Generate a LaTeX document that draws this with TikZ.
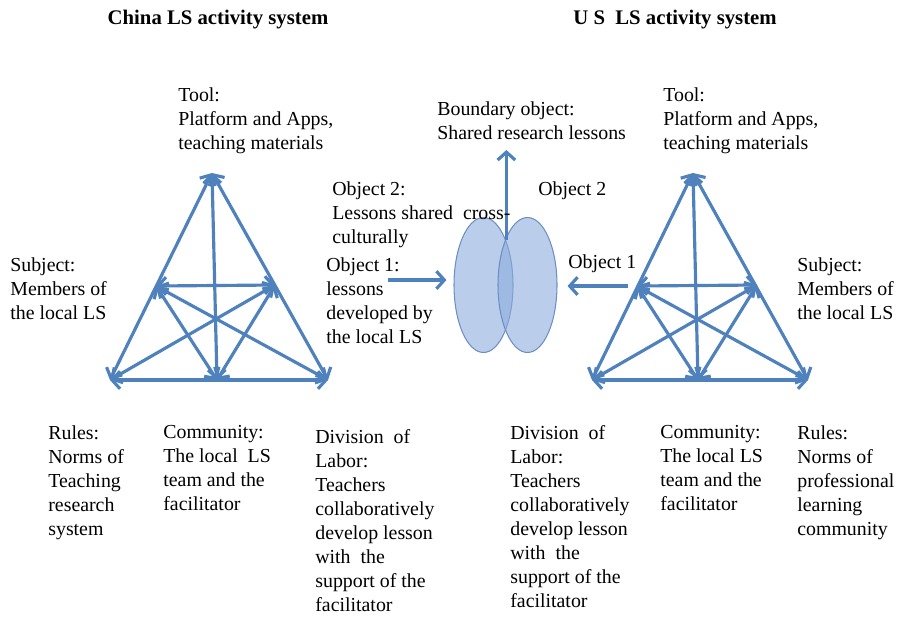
\documentclass[tikz,border=0pt]{standalone}
\usepackage{fontspec}
\setmainfont{Liberation Serif}
\usetikzlibrary{arrows.meta,shapes.geometric}
\definecolor{linkBlue}{RGB}{79,129,189}
\definecolor{lensFill}{RGB}{140,172,220}
\definecolor{lensEdge}{RGB}{110,142,198}
\tikzset{
  link/.style={draw=linkBlue,line width=1.8pt,line cap=round,
    {Straight Barb[length=4.5pt,width=10pt]}-{Straight Barb[length=4.5pt,width=10pt]}},
  flow/.style={draw=linkBlue,line width=1.8pt,-{Straight Barb[length=4.5pt,width=10pt]}},
  lens/.style={ellipse,draw=lensEdge,line width=0.6pt,fill=lensFill,fill opacity=0.6,
    inner sep=0pt,minimum width=1.18cm,minimum height=2.7cm},
  lbl/.style={anchor=north west,inner sep=0pt,align=left,
    font=\fontsize{11.3}{13.7}\selectfont},
  heading/.style={anchor=base,inner sep=0pt,font=\fontsize{11.8}{14}\selectfont\bfseries}
}
% the nine links of one activity triangle
\newcommand{\activitylinks}[1]{%
  \draw[link] (#1Tool) -- (#1Rul);
  \draw[link] (#1Tool) -- (#1Div);
  \draw[link] (#1Rul) -- (#1Div);
  \draw[link] (#1Tool) -- (#1Comm);
  \draw[link] (#1Subj) -- (#1Obj);
  \draw[link] (#1Subj) -- (#1Comm);
  \draw[link] (#1Obj) -- (#1Comm);
  \draw[link] (#1Subj) -- (#1Div);
  \draw[link] (#1Obj) -- (#1Rul);}

\begin{document}
\begin{tikzpicture}[x=0.02cm,y=-0.02cm]
  \useasboundingbox (0,0) rectangle (906,620);

  % headings
  \node[heading] (cnTitle) at (218,24) {China LS activity system};
  \node[heading] (usTitle) at (675,24) {U S\ \ LS activity system};

  % China triangle
  \coordinate (cnTool) at (212,173);
  \coordinate (cnSubj) at (156,286);
  \coordinate (cnObj)  at (275,285);
  \coordinate (cnRul)  at (110,380);
  \coordinate (cnComm) at (217,380);
  \coordinate (cnDiv)  at (328,380);
  \activitylinks{cn}

  % US triangle (mirrored)
  \coordinate (usTool) at (693,173);
  \coordinate (usObj)  at (637,286);
  \coordinate (usSubj) at (757,285);
  \coordinate (usDiv)  at (592,380);
  \coordinate (usComm) at (698,380);
  \coordinate (usRul)  at (808,380);
  \activitylinks{us}

  % shared object
  \node[lens] (lensA) at (483.5,285) {};
  \node[lens] (lensB) at (527.5,285) {};
  \coordinate (lensTop) at (506.4,240);
  \coordinate (bndTip) at (506.4,150);
  \coordinate (objTail) at (388,280);
  \draw[flow] (lensTop) -- (bndTip);
  \draw[flow,shorten >=4pt] (objTail) -- (objTail -| lensA.west);
  \draw[flow,shorten <=5pt,shorten >=5.7pt] (usObj) -- (usObj -| lensB.east);

  % labels, top part
  \node[lbl] (cnToolTxt) at (178,87) {Tool:\\Platform and Apps,\\teaching materials};
  \node[lbl] (usToolTxt) at (663,87) {Tool:\\Platform and Apps,\\teaching materials};
  \node[lbl] (bndTxt) at (437,101) {Boundary object:\\Shared research lessons};
  \node[lbl] (cnObjB) at (332,181) {Object 2:\\Lessons shared\ \ cross-\\culturally};
  \node[lbl] (usObjB) at (538,181) {Object 2};
  \node[lbl] (cnObjA) at (326,257) {Object 1:\\lessons\\developed by\\the local LS};
  \node[lbl] (usObjA) at (568,254) {Object 1};
  \node[lbl] (cnSubjTxt) at (10,257) {Subject:\\Members of\\the local LS};
  \node[lbl] (usSubjTxt) at (797,257) {Subject:\\Members of\\the local LS};

  % labels, bottom part
  \node[lbl] (cnRulTxt) at (48,425) {Rules:\\Norms of\\Teaching\\research\\system};
  \node[lbl] (cnCommTxt) at (163,425) {Community:\\The local\ \ LS\\team and the\\facilitator};
  \node[lbl] (cnDivTxt) at (315,429) {Division\ \ of\\Labor:\\Teachers\\collaboratively\\develop lesson\\with\ \ the\\support of the\\facilitator};
  \node[lbl] (usDivTxt) at (510,425) {Division\ \ of\\Labor:\\Teachers\\collaboratively\\develop lesson\\with\ \ the\\support of the\\facilitator};
  \node[lbl] (usCommTxt) at (660,425) {Community:\\The local LS\\team and the\\facilitator};
  \node[lbl] (usRulTxt) at (797,425) {Rules:\\Norms of\\professional\\learning\\community};
\end{tikzpicture}
\end{document}
